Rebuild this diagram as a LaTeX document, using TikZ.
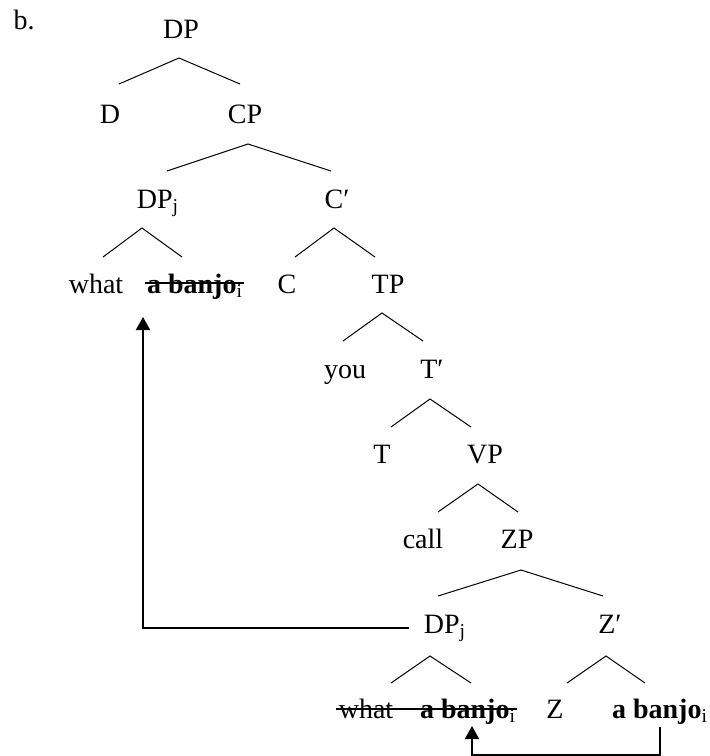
\documentclass[tikz,border=0pt]{standalone}
\usepackage{fontspec}
\setmainfont{Liberation Serif}
\usepackage{tikz}
\usetikzlibrary{arrows.meta,calc}

\begin{document}
\begin{tikzpicture}[
    x=0.5pt, y=-0.5pt,
    every node/.style={font=\fontsize{14}{16}\selectfont},
    lbl/.style={inner sep=0pt,anchor=base},
    branch/.style={line width=0.5pt},
    strike/.style={line width=0.75pt},
    mv/.style={line width=1pt,-{Triangle[width=7pt,length=6.5pt]}}
]
\useasboundingbox (0,0) rectangle (709,756);

% Example label
\node[lbl] (ex) at (24,29) {b.};

% Upper part
\node[lbl] (DP)   at (181,38) {DP};
\node[lbl] (D)    at (110,123) {D};
\node[lbl] (CP)   at (245,123) {CP};
\node[lbl] (DPj)  at (158,208) {DP\textsubscript{j}};
\node[lbl] (Cbar) at (337,208) {C′};
\node[lbl] (what) at (96,293) {what};
\node[lbl] (banjoA) at (195,293) {\textbf{a banjo}\textsubscript{i}};
\node[lbl] (C)    at (287,293) {C};
\node[lbl] (TP)   at (388,293) {TP};

% Middle part
\node[lbl] (you)  at (345,378) {you};
\node[lbl] (Tbar) at (432,378) {T′};
\node[lbl] (T)    at (382,463) {T};
\node[lbl] (VP)   at (485,463) {VP};
\node[lbl] (call) at (423,548) {call};
\node[lbl] (ZP)   at (517,548) {ZP};

% Lower part
\node[lbl] (DPjB) at (445,633) {DP\textsubscript{j}};
\node[lbl] (Zbar) at (610,633) {Z′};
\node[lbl] (whatB)  at (366,718) {what};
\node[lbl] (banjoB) at (468,718) {\textbf{a banjo}\textsubscript{i}};
\node[lbl] (Z)      at (555,718) {Z};
\node[lbl] (banjoC) at (660,718) {\textbf{a banjo}\textsubscript{i}};

% Branches
\draw[branch] ($(D.base)+(9,-39)$) -- ($(DP.base)+(-2,20)$) -- ($(CP.base)+(-5,-39)$);
\draw[branch] ($(DPj.base)+(9,-37)$) -- ($(CP.base)+(3,21)$) -- ($(Cbar.base)+(-6,-37)$);
\draw[branch] ($(what.base)+(7,-36)$) -- ($(DPj.base)+(-16,20)$) -- ($(banjoA.base)+(-13,-36)$);
\draw[branch] ($(C.base)+(8,-36)$) -- ($(Cbar.base)+(-3,20)$) -- ($(TP.base)+(-13,-36)$);
\draw[branch] ($(you.base)+(-2,-37)$) -- ($(TP.base)+(-6,20)$) -- ($(Tbar.base)+(-9,-37)$);
\draw[branch] ($(T.base)+(9,-36)$) -- ($(Tbar.base)+(-2,21)$) -- ($(VP.base)+(-14,-36)$);
\draw[branch] ($(call.base)+(15,-36)$) -- ($(VP.base)+(-7,21)$) -- ($(ZP.base)+(1,-36)$);
\draw[branch] ($(DPjB.base)+(-7,-37)$) -- ($(ZP.base)+(4,22)$) -- ($(Zbar.base)+(-7,-37)$);
\draw[branch] ($(whatB.base)+(25,-35)$) -- ($(DPjB.base)+(-15,23)$) -- ($(banjoB.base)+(3,-35)$);
\draw[branch] ($(Z.base)+(12,-35)$) -- ($(Zbar.base)+(-4,23)$) -- ($(banjoC.base)+(-15,-35)$);

% Deleted copies
\draw[strike] ($(banjoA.base west)+(-2,-10)$) -- ($(banjoA.base east)+(1,-10)$);
\draw[strike] ($(whatB.base west)+(-2,-9)$) -- ($(banjoB.base east)+(1,-9)$);

% Movement arrows
\draw[mv] ($(DPjB.west)+(-14,0)$) -| ($(banjoA.base)+(-52,24)$);
\draw[mv] ($(banjoC.base)+(0,9)$) -- ++(0,28) -| ($(banjoB.base)+(4,8)$);

\end{tikzpicture}
\end{document}
